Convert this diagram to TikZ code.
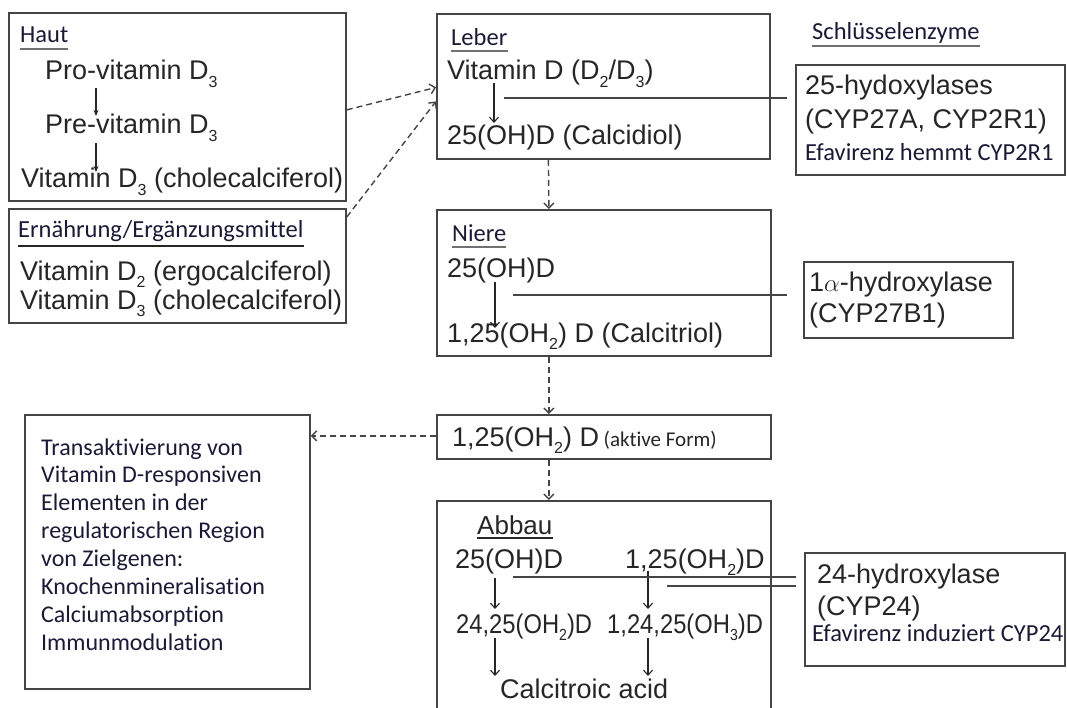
\documentclass[tikz,border=0pt]{standalone}
\usepackage{graphicx}
\usepackage{fontspec}
\setmainfont{Liberation Sans}
\newfontfamily\calfont[Ligatures=NoCommon]{Carlito}
\usetikzlibrary{arrows.meta}
\definecolor{txt}{HTML}{262626}
\definecolor{nav}{HTML}{1A1A36}
\definecolor{ln}{HTML}{454545}
\definecolor{ulc}{HTML}{707070}
\newcommand\sbs[1]{\raisebox{-0.27em}{\fontsize{16}{16}\selectfont #1}}
\begin{document}
\begin{tikzpicture}[x=1pt,y=-1pt,
  box/.style={draw=ln, line width=1.8pt, rectangle, anchor=north west, inner sep=0pt},
  t/.style={anchor=base west, inner sep=0pt, text=txt, font=\fontsize{27}{30}\selectfont},
  c/.style={anchor=base west, inner sep=0pt, text=nav, font=\calfont\fontsize{24.5}{28}\selectfont},
  cs/.style={anchor=base west, inner sep=0pt, text=nav, font=\calfont\fontsize{24}{28}\selectfont},
  ul/.style={draw=ulc, line width=2pt},
  uld/.style={draw=txt, line width=1.4pt},
  enz/.style={draw=ln, line width=1.4pt},
  sarr/.style={draw=txt, line width=1.1pt, -{Stealth[length=6pt,width=5pt]}},
  oarr/.style={draw=txt, line width=1.1pt, -{Straight Barb[length=5pt,width=9pt]}},
  darr/.style={draw=ln, line width=1.4pt, dash pattern=on 6pt off 4pt, -{Straight Barb[length=5pt,width=10pt]}}
]
\useasboundingbox (0,0) rectangle (1067,708);
\fill[white] (0,0) rectangle (1067,708);

% Haut
\node[box, minimum width=337pt, minimum height=188pt] (haut) at (8,12) {};
\node[c] (hautl) at (20,43) {Haut};
\draw[ul] ([yshift=-6pt]hautl.base west) -- ([yshift=-6pt]hautl.base east);
\node[t] (pro) at (45,80) {Pro-vitamin D\sbs{3}};
\node[t] (pre) at (45,134) {Pre-vitamin D\sbs{3}};
\node[t] (vd3a) at (21,188) {Vitamin D\sbs{3} (cholecalciferol)};
\coordinate (p1) at (96,88); \coordinate (p2) at (96,116);
\coordinate (p3) at (96,143); \coordinate (p4) at (96,172);
\draw[sarr] (p1) -- (p2);
\draw[sarr] (p3) -- (p4);

% Ernaehrung
\node[box, minimum width=337pt, minimum height=114pt] (ern) at (8,208) {};
\node[c] (ernl) at (18,238) {Ernährung/Ergänzungsmittel};
\draw[uld] ([yshift=-8pt]ernl.base west) -- ([yshift=-8pt]ernl.base east);
\node[t] (vd2) at (20,280) {Vitamin D\sbs{2} (ergocalciferol)};
\node[t] (vd3b) at (20,309) {Vitamin D\sbs{3} (cholecalciferol)};

% Leber
\node[box, minimum width=333pt, minimum height=145pt] (leber) at (436,13) {};
\node[c] (leberl) at (451,46) {Leber};
\draw[ul] ([yshift=-5pt]leberl.base west) -- ([yshift=-5pt]leberl.base east);
\node[t] (vitd) at (447,80) {Vitamin D (D\sbs{2}/D\sbs{3})};
\node[t] (calcd) at (447,145) {25(OH)D (Calcidiol)};
\coordinate (l1) at (494,83); \coordinate (l2) at (494,123);
\draw[oarr] (l1) -- (l2);
\coordinate (le1) at (504,98); \coordinate (le2) at (787,98);
\draw[enz] (le1) -- (le2);

% Schluesselenzyme
\node[c] (sk) at (812,40) {Schlüsselenzyme};
\draw[ul] ([yshift=-6pt]sk.base west) -- ([yshift=-6pt]sk.base east);

\node[box, minimum width=269pt, minimum height=110pt] (h25) at (795,64) {};
\node[t] (h25a) at (805,95) {25-hydoxylases};
\node[t] (h25b) at (805,129) {(CYP27A, CYP2R1)};
\node[c] (h25c) at (805,161) {Efavirenz hemmt CYP2R1};

% Niere
\node[box, minimum width=334pt, minimum height=146pt] (niere) at (436,209) {};
\node[c] (nierel) at (452,242) {Niere};
\draw[ul] ([yshift=-5pt]nierel.base west) -- ([yshift=-5pt]nierel.base east);
\node[t] (n1) at (447,278) {25(OH)D};
\node[t] (n2) at (447,342) {1,25(OH\sbs{2}) D (Calcitriol)};
\coordinate (m1) at (495,282); \coordinate (m2) at (495,328);
\draw[oarr] (m1) -- (m2);
\coordinate (ne1) at (513,295); \coordinate (ne2) at (787,295);
\draw[enz] (ne1) -- (ne2);

\node[box, minimum width=209pt, minimum height=76pt] (alpha) at (803,261) {};
\node[t] (a1) at (809,292) {1$\alpha$-hydroxylase};
\node[t] (a2) at (809,323) {(CYP27B1)};

% aktive Form
\node[box, minimum width=334pt, minimum height=44pt] (akt) at (436,414) {};
\node[t] (aktt) at (452,446) {1,25(OH\sbs{2}) D\,{\calfont\fontsize{21}{24}\selectfont(aktive Form)}};

% Transaktivierung
\node[box, minimum width=285pt, minimum height=274pt] (trans) at (24,414) {};
\node[cs] (tr1) at (41,455) {Transaktivierung von};
\node[cs] (tr2) at (41,482) {Vitamin D-responsiven};
\node[cs] (tr3) at (41,510) {Elementen in der};
\node[cs] (tr4) at (41,538) {regulatorischen Region};
\node[cs] (tr5) at (41,566) {von Zielgenen:};
\node[cs] (tr6) at (41,594) {Knochenmineralisation};
\node[cs] (tr7) at (41,622) {Calciumabsorption};
\node[cs] (tr8) at (41,650) {Immunmodulation};

% Abbau
\node[box, minimum width=334pt, minimum height=230pt] (abbau) at (436,500) {};
\node[t, font=\fontsize{26}{30}\selectfont] (abbl) at (477,534) {Abbau};
\draw[uld] ([yshift=-4pt]abbl.base west) -- ([yshift=-4pt]abbl.base east);
\node[t] (b1) at (455,568) {25(OH)D};
\node[t] (b2) at (625,568) {1,25(OH\sbs{2})D};
\node[t] (b3) at (456,633) {\scalebox{0.88}[1]{24,25(OH\sbs{2})D}};
\node[t] (b4) at (607,633) {\scalebox{0.88}[1]{1,24,25(OH\sbs{3})D}};
\node[t] (b5) at (500,698) {Calcitroic acid};
\coordinate (q1) at (495,578); \coordinate (q2) at (495,609);
\coordinate (q3) at (648,571); \coordinate (q4) at (648,609);
\coordinate (q5) at (495,638); \coordinate (q6) at (495,676);
\coordinate (q7) at (648,638); \coordinate (q8) at (648,676);
\draw[oarr] (q1) -- (q2);
\draw[oarr] (q3) -- (q4);
\draw[oarr] (q5) -- (q6);
\draw[oarr] (q7) -- (q8);
\coordinate (ae1) at (513,577); \coordinate (ae2) at (796,577);
\coordinate (ae3) at (667,586); \coordinate (ae4) at (796,586);
\draw[enz] (ae1) -- (ae2);
\draw[enz] (ae3) -- (ae4);

\node[box, minimum width=260pt, minimum height=113pt] (h24) at (804,552) {};
\node[t] (c1) at (817,583) {24-hydroxylase};
\node[t] (c2) at (817,615) {(CYP24)};
\node[c] (c3) at (812,641) {Efavirenz induziert CYP24};

% dashed connectors
\draw[darr] ([yshift=-3pt]haut.east) -- ([yshift=-1pt]leber.west);
\draw[darr] ([yshift=-9pt]ern.north east) -- ([yshift=-15pt]leber.west);
\draw[darr] ([xshift=-55pt]leber.south) -- ([xshift=-55pt]niere.north);
\draw[darr] ([xshift=-55pt]niere.south) -- ([xshift=-55pt]akt.north);
\draw[darr] ([xshift=-55pt]akt.south) -- ([xshift=-55pt]abbau.north);
\draw[darr] ([yshift=1pt]akt.west) -- ([yshift=1pt]akt.west -| trans.east);
\end{tikzpicture}
\end{document}
